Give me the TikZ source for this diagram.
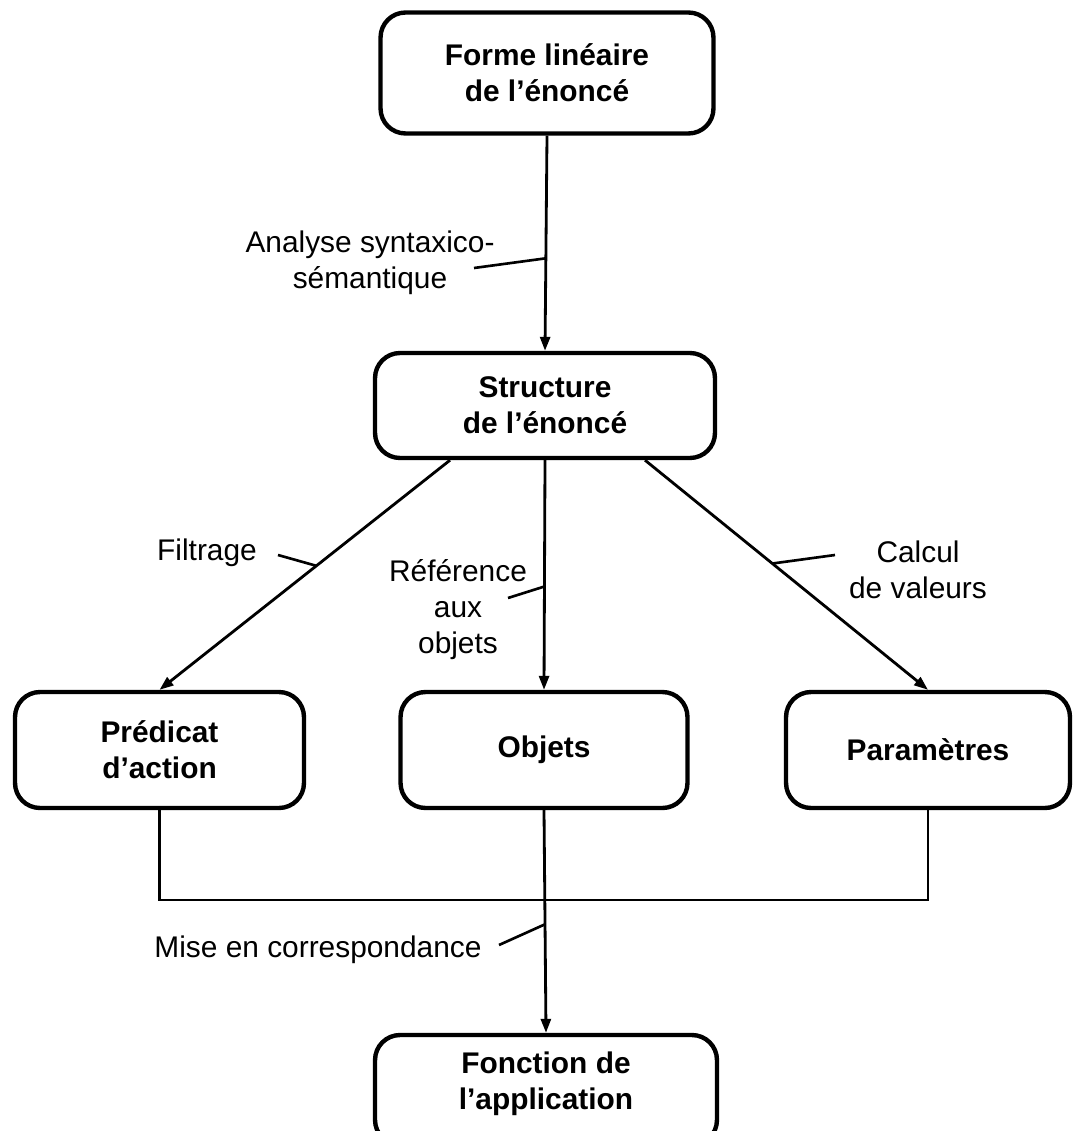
\documentclass[tikz,border=0pt]{standalone}
\usepackage{fontspec}
\setmainfont{Liberation Sans}
\usetikzlibrary{arrows.meta,calc}
\begin{document}
\begin{tikzpicture}[x=0.02cm,y=-0.02cm,
  box/.style={draw, line width=2.5pt, rounded corners=0.5cm, align=center,
    font=\fontsize{17}{20.5}\selectfont\bfseries, inner sep=0pt},
  conn/.style={line width=1.6pt},
  arr/.style={conn, -{Triangle[length=0.28cm,width=0.2cm]}},
  tickline/.style={line width=1.5pt},
  lbl/.style={align=center, font=\fontsize{17}{20.5}\selectfont, inner sep=0pt}]
\useasboundingbox (0,0) rectangle (1072,1131);
\clip (0,0) rectangle (1072,1131);
% boxes
\node[box, minimum width=6.66cm, minimum height=2.42cm] (T) at (547,73) {Forme linéaire\\de l’énoncé};
\node[box, minimum width=6.8cm, minimum height=2.1cm] (S) at (545,405.5) {Structure\\de l’énoncé};
\node[box, minimum width=5.78cm, minimum height=2.32cm] (P) at (159.5,750) {Prédicat\\d’action};
\node[box, minimum width=5.74cm, minimum height=2.32cm] (O) at (544,750) {Objets};
\node[box, minimum width=5.68cm, minimum height=2.32cm] (R) at (928,750) {Paramètres};
\node[box, minimum width=6.84cm, minimum height=2.2cm] (F) at (546,1090) {};
\node[lbl, font=\fontsize{17}{20.5}\selectfont\bfseries] (Ft) at (546,1084) {Fonction de\\l’application};
% connectors
\draw[arr] (T.south) -- (S.north);
\coordinate (sL) at ($(S.south)+(-95,0)$);
\coordinate (sR) at ($(S.south)+(100,0)$);
\draw[arr] (sL) -- (P.north);
\draw[arr] (S.south) -- (O.north);
\draw[arr] (sR) -- (R.north);
\coordinate (bus) at (544,900);
\draw[conn] (P.south) -- (P.south |- bus) -- (R.south |- bus) -- (R.south);
\draw[arr] (O.south) -- (F.north);
% labels
\node[lbl] (La) at (370,263) {Analyse syntaxico-\\sémantique};
\coordinate (aT) at (474,268);
\draw[tickline] (aT) -- ($(T.south)!0.57!(S.north)$);
\node[lbl] (Lf) at (207,553) {Filtrage};
\coordinate (fT) at (278,555);
\draw[tickline] (fT) -- ($(sL)!0.46!(P.north)$);
\node[lbl] (Lr) at (458,610) {Référence\\aux\\objets};
\coordinate (rT) at (508,598);
\draw[tickline] (rT) -- ($(S.south)!0.55!(O.north)$);
\node[lbl] (Lc) at (918,570) {Calcul\\de valeurs};
\coordinate (cT) at (835,555);
\draw[tickline] (cT) -- ($(sR)!0.45!(R.north)$);
\node[lbl] (Lm) at (318,950) {Mise en correspondance};
\coordinate (mT) at (499,945);
\draw[tickline] (mT) -- ($(bus)!0.185!(F.north)$);
\end{tikzpicture}
\end{document}
